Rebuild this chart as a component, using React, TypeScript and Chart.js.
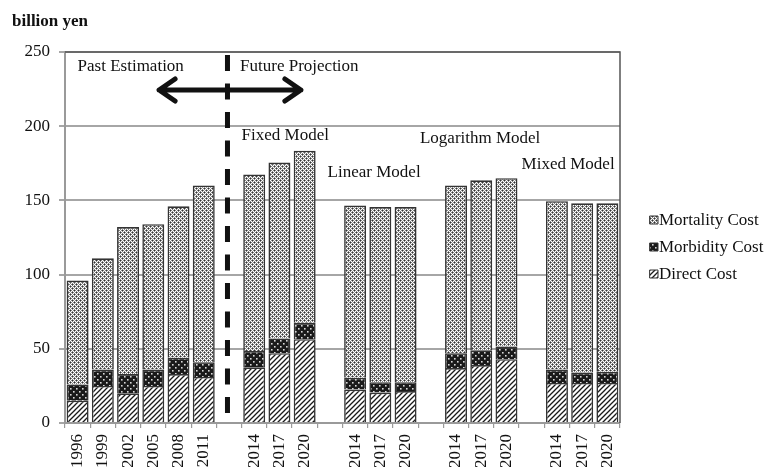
import React, { useEffect, useRef } from "react";
import { Chart, registerables } from "chart.js";

Chart.register(...registerables);

const categories: string[] = [
  "1996", "1999", "2002", "2005", "2008", "2011", "",
  "2014", "2017", "2020", "",
  "2014", "2017", "2020", "",
  "2014", "2017", "2020", "",
  "2014", "2017", "2020",
];

const directCost: (number | null)[] = [
  15, 25, 20, 25, 33, 31, null,
  37.5, 47, 56.5, null,
  22.5, 20.5, 21.5, null,
  37, 39, 43, null,
  27, 27, 27,
];

const morbidityCost: (number | null)[] = [
  11, 11, 13, 11, 11, 10, null,
  11, 10, 11, null,
  8, 7, 6, null,
  10, 10, 8.5, null,
  9, 7, 7.5,
];

const mortalityCost: (number | null)[] = [
  70, 75, 99, 98, 102, 119, null,
  119, 118.5, 116, null,
  116, 118, 118, null,
  113, 114.5, 113.5, null,
  113.5, 114, 113.5,
];

const yTicks: number[] = [0, 50, 100, 150, 200, 250];

const legendLabels: string[] = ["Mortality Cost", "Morbidity Cost", "Direct Cost"];

const FONT = "'Liberation Serif', 'Times New Roman', serif";

function makeTile(size: number, draw: (c: CanvasRenderingContext2D) => void): CanvasPattern | string {
  const cv = document.createElement("canvas");
  cv.width = size;
  cv.height = size;
  const c = cv.getContext("2d");
  if (!c) return "#999";
  draw(c);
  const p = c.createPattern(cv, "repeat");
  return p || "#999";
}

function mortalityPattern() {
  return makeTile(4, (c) => {
    c.fillStyle = "#ffffff";
    c.fillRect(0, 0, 4, 4);
    c.fillStyle = "#868686";
    const grays = [[1, 0], [0, 1], [3, 0], [0, 3], [2, 1], [1, 2], [3, 2], [2, 3]];
    grays.forEach(([x, y]) => c.fillRect(x, y, 1, 1));
    c.fillStyle = "#333333";
    c.fillRect(0, 0, 1, 1);
    c.fillRect(2, 2, 1, 1);
  });
}

function morbidityPattern() {
  return makeTile(6, (c) => {
    c.fillStyle = "#1a1a1a";
    c.fillRect(0, 0, 6, 6);
    c.fillStyle = "#d8d8d8";
    c.fillRect(1, 1, 1.6, 1.6);
    c.fillRect(4, 4, 1.6, 1.6);
  });
}

function directPattern() {
  return makeTile(5, (c) => {
    c.fillStyle = "#ffffff";
    c.fillRect(0, 0, 5, 5);
    c.strokeStyle = "#1a1a1a";
    c.lineWidth = 1.3;
    c.beginPath();
    c.moveTo(-1, 6);
    c.lineTo(6, -1);
    c.moveTo(-1, 1);
    c.lineTo(1, -1);
    c.moveTo(4, 6);
    c.lineTo(6, 4);
    c.stroke();
  });
}

const annotationPlugin = {
  id: "annotations",
  afterDraw(chart: any) {
    const ctx: CanvasRenderingContext2D = chart.ctx;
    const xs = chart.scales.x;
    const ys = chart.scales.y;
    const area = chart.chartArea;
    const px = (i: number) => xs.getPixelForValue(i);
    const py = (v: number) => ys.getPixelForValue(v);
    ctx.save();

    // plot border top/right
    ctx.strokeStyle = "#555";
    ctx.lineWidth = 1.5;
    ctx.beginPath();
    ctx.moveTo(area.left, area.top);
    ctx.lineTo(area.right, area.top);
    ctx.lineTo(area.right, area.bottom);
    ctx.stroke();

    // dashed divider
    ctx.strokeStyle = "#111";
    ctx.lineWidth = 5;
    ctx.setLineDash([16, 12.5]);
    ctx.beginPath();
    ctx.moveTo(px(6) - 1.5, py(248));
    ctx.lineTo(px(6) - 1.5, py(3));
    ctx.stroke();
    ctx.setLineDash([]);

    // double arrow
    const ay = py(224.4);
    const ax1 = px(3.15);
    const ax2 = px(8.93);
    ctx.lineWidth = 5;
    ctx.lineCap = "round";
    ctx.lineJoin = "round";
    ctx.beginPath();
    ctx.moveTo(ax1 + 2, ay);
    ctx.lineTo(ax2 - 2, ay);
    ctx.moveTo(ax1 + 18, ay - 11);
    ctx.lineTo(ax1 + 2, ay);
    ctx.lineTo(ax1 + 18, ay + 11);
    ctx.moveTo(ax2 - 18, ay - 11);
    ctx.lineTo(ax2 - 2, ay);
    ctx.lineTo(ax2 - 18, ay + 11);
    ctx.stroke();

    // texts
    ctx.fillStyle = "#111";
    ctx.font = `17px ${FONT}`;
    ctx.textAlign = "left";
    ctx.textBaseline = "middle";
    ctx.fillText("Past Estimation", px(0.0), py(240));
    ctx.fillText("Future Projection", px(6.44), py(240));
    ctx.fillText("Fixed Model", px(6.5), py(194));
    ctx.fillText("Linear Model", px(9.91), py(169));
    ctx.fillText("Logarithm Model", px(13.57), py(192));
    ctx.fillText("Mixed Model", px(17.6), py(174));

    // unit label
    ctx.font = `bold 17px ${FONT}`;
    ctx.fillText("billion yen", 12, 22);

    // legend
    const order = [2, 1, 0];
    ctx.font = `17px ${FONT}`;
    order.forEach((dsIndex, k) => {
      const ds = chart.data.datasets[dsIndex];
      const cy = 220 + k * 27;
      const bx = area.right + 30;
      ctx.fillStyle = ds.backgroundColor;
      ctx.fillRect(bx, cy - 4, 8, 8);
      ctx.strokeStyle = "#333";
      ctx.lineWidth = 1;
      ctx.strokeRect(bx, cy - 4, 8, 8);
      ctx.fillStyle = "#111";
      ctx.fillText(legendLabels[k], bx + 9, cy + 1);
    });
    ctx.restore();
  },
};

export default function App() {
  const ref = useRef<HTMLCanvasElement | null>(null);

  useEffect(() => {
    if (!ref.current) return;
    Chart.defaults.font.family = FONT;
    Chart.defaults.color = "#111";
    const chart = new Chart(ref.current, {
      type: "bar",
      data: {
        labels: categories,
        datasets: [
          {
            label: "Direct Cost",
            data: directCost,
            backgroundColor: directPattern() as any,
            borderColor: "#333",
            borderWidth: 1.6,
          },
          {
            label: "Morbidity Cost",
            data: morbidityCost,
            backgroundColor: morbidityPattern() as any,
            borderColor: "#333",
            borderWidth: 1.6,
          },
          {
            label: "Mortality Cost",
            data: mortalityCost,
            backgroundColor: mortalityPattern() as any,
            borderColor: "#333",
            borderWidth: 1.6,
          },
        ],
      },
      options: {
        responsive: false,
        animation: false,
        datasets: { bar: { barPercentage: 0.87, categoryPercentage: 1 } },
        layout: { padding: { top: 52, right: 149, bottom: 0, left: 0 } },
        plugins: { legend: { display: false }, tooltip: { enabled: false } },
        scales: {
          x: {
            stacked: true,
            offset: true,
            grid: {
              display: true,
              drawOnChartArea: false,
              offset: true,
              tickLength: 5,
              color: "#9a9a9a",
              lineWidth: 1.2,
            },
            border: { color: "#9a9a9a", width: 2 },
            ticks: {
              autoSkip: false,
              minRotation: 90,
              maxRotation: 90,
              padding: 6,
              font: { size: 17, family: FONT },
              color: "#111",
            },
            afterFit: (s: any) => {
              s.height = 44;
            },
          },
          y: {
            stacked: true,
            min: 0,
            max: 250,
            afterBuildTicks: (s: any) => {
              s.ticks = yTicks.map((v) => ({ value: v }));
            },
            grid: { color: "#a6a6a6", lineWidth: 2, tickLength: 6 },
            border: { color: "#9a9a9a", width: 2 },
            ticks: {
              padding: 9,
              font: { size: 17, family: FONT },
              color: "#111",
            },
            afterFit: (s: any) => {
              s.width = 65;
            },
          },
        },
      },
      plugins: [annotationPlugin],
    });
    return () => chart.destroy();
  }, []);

  return (
    <div style={{ position: "absolute", left: 0, top: 0, width: 769, height: 467, background: "#fff" }}>
      <canvas ref={ref} width={769} height={467} />
    </div>
  );
}
